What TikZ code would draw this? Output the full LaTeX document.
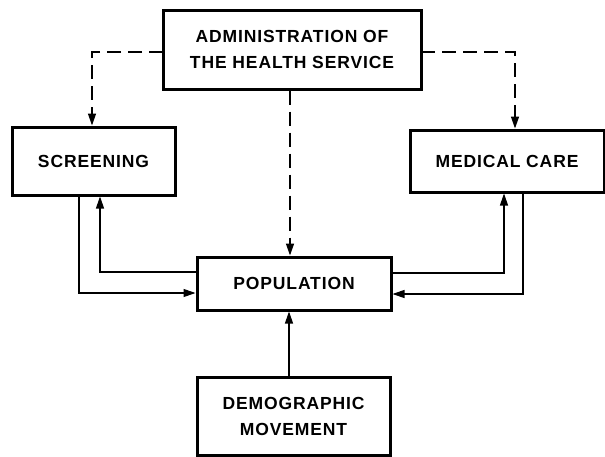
\documentclass[tikz,border=0pt]{standalone}
\usepackage{fontspec}
\setmainfont{Liberation Sans}[LetterSpace=5]
\usetikzlibrary{arrows.meta}
\tikzset{
  box/.style={draw, line width=3pt, inner sep=0pt, align=center,
    font=\bfseries\fontsize{17.5}{26}\selectfont},
  link/.style={line width=1.1pt, -{Triangle[length=12pt,width=8pt]}},
  dlink/.style={line width=1.4pt, dash pattern=on 14pt off 7pt, -{Triangle[length=12pt,width=8pt]}}
}
\begin{document}
\begin{tikzpicture}[x=1pt,y=-1pt]
\useasboundingbox (0,0) rectangle (605,456);
\node[box, minimum width=258pt, minimum height=79pt] (admin) at (292,49.5) {ADMINISTRATION OF\\THE HEALTH SERVICE};
\node[box, minimum width=163pt, minimum height=68pt] (screen) at (93.5,161) {SCREENING};
\node[box, minimum width=194pt, minimum height=62pt] (med) at (507,161) {MEDICAL CARE};
\node[box, minimum width=194pt, minimum height=53pt] (pop) at (294,283.5) {POPULATION};
\node[box, minimum width=193pt, minimum height=78pt] (demo) at (293.5,416.5) {DEMOGRAPHIC\\MOVEMENT};
% dashed control lines
\coordinate (al) at (163,52);
\coordinate (ar) at (421,52);
\draw[dlink] (al) -| (screen.north -| 92,0);
\draw[dlink] (ar) -| (med.north -| 515,0);
\draw[dlink] (admin.south -| 290,0) -- (pop.north -| 290,0);
% screening loop
\draw[link] (screen.south -| 79,0) |- (pop.west |- 0,293);
\draw[link] (pop.west |- 0,272) -| (screen.south -| 100,0);
% medical loop
\draw[link] (pop.east |- 0,273) -| (med.south -| 504,0);
\draw[link] (med.south -| 523,0) |- (pop.east |- 0,294);
% demographic
\draw[link] (demo.north -| 289,0) -- (pop.south -| 289,0);
\end{tikzpicture}
\end{document}
